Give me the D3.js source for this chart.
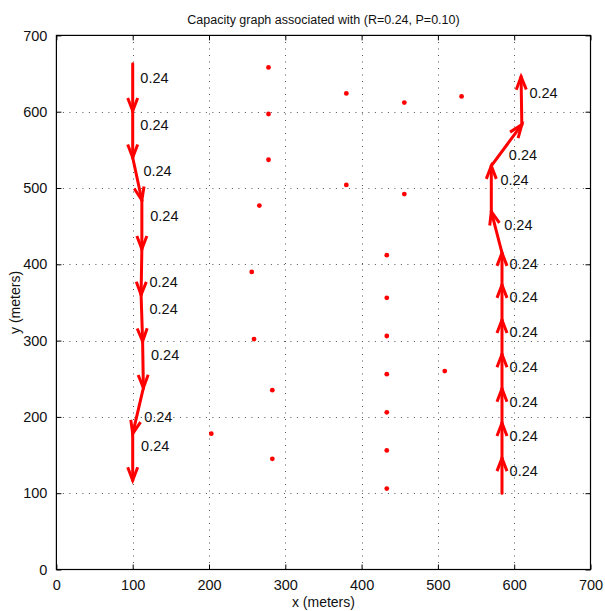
<!DOCTYPE html>
<html>
<head>
<meta charset="utf-8">
<script src="https://cdn.jsdelivr.net/npm/d3@7"></script>
<style>
  body { margin: 0; background: #fff; }
  text { font-family: "Liberation Sans", Arial, sans-serif; }
</style>
</head>
<body>
<div id="chart"></div>
<script>
// scattered sensor nodes (meters)
const nodesX = [278, 380, 456, 531, 278, 278, 380, 456, 266, 433, 256, 433, 259, 433, 509, 433, 283, 433, 203, 433, 283, 433];
const nodesY = [658, 624, 612, 620, 597, 537, 504, 492, 477, 412, 390, 356, 302, 306, 260, 256, 235, 206, 178, 156, 145, 106];

// left path, walked downward
const leftX = [100, 100, 100, 112, 112, 111, 113, 114, 100, 100];
const leftY = [663, 601, 540, 484, 420, 360, 299, 238, 178, 117];
const leftLabelX = [110, 110, 114, 123, 122, 122, 124, 115, 111];
const leftLabelY = [644, 583, 523, 464, 377, 342, 281, 200, 162];

// right path, walked upward
const rightX = [584, 584, 584, 584, 584, 584, 584, 584, 570, 570, 610, 609];
const rightY = [100, 146, 192, 237, 282, 327, 373, 415, 469, 529, 583, 646];
const rightLabelX = [594, 594, 594, 594, 594, 594, 594, 587, 582, 593, 620];
const rightLabelY = [129, 175, 220, 266, 312, 357, 401, 451, 511, 544, 624];

const capacity = "0.24";
const xTicks = [0, 100, 200, 300, 400, 500, 600, 700];
const yTicks = [0, 100, 200, 300, 400, 500, 600, 700];

const width = 605, height = 611;
const pl = 56.4, pr = 590.5, pt = 35.4, pb = 569.5;

const svg = d3.select("#chart").append("svg")
  .attr("width", width)
  .attr("height", height);

const x = d3.scaleLinear().domain([0, 700]).range([pl, pr]);
const y = d3.scaleLinear().domain([0, 700]).range([pb, pt]);

// grid
const grid = svg.append("g")
  .attr("stroke", "#555")
  .attr("stroke-width", 1)
  .attr("stroke-dasharray", "1,5.5");
grid.selectAll(".gx").data(xTicks.slice(1, -1)).enter().append("line")
  .attr("x1", d => Math.round(x(d)) + 0.5).attr("x2", d => Math.round(x(d)) + 0.5)
  .attr("y1", pb).attr("y2", pt);
grid.selectAll(".gy").data(yTicks.slice(1, -1)).enter().append("line")
  .attr("y1", d => Math.round(y(d)) + 0.5).attr("y2", d => Math.round(y(d)) + 0.5)
  .attr("x1", pl).attr("x2", pr);

// axes, ticks pointing inward like matlab
const fmt = d3.format("d");
svg.append("g").attr("transform", `translate(0,${pb})`)
  .call(d3.axisBottom(x).tickValues(xTicks).tickFormat(fmt).tickSizeInner(-5).tickSizeOuter(0).tickPadding(10));
svg.append("g").attr("transform", `translate(${pl},0)`)
  .call(d3.axisLeft(y).tickValues(yTicks).tickFormat(fmt).tickSizeInner(-5).tickSizeOuter(0).tickPadding(9));
svg.append("g").attr("transform", `translate(0,${pt})`)
  .call(d3.axisTop(x).tickValues(xTicks).tickFormat("").tickSizeInner(-5).tickSizeOuter(0));
svg.append("g").attr("transform", `translate(${pr},0)`)
  .call(d3.axisRight(y).tickValues(yTicks).tickFormat("").tickSizeInner(-5).tickSizeOuter(0));

svg.selectAll(".domain").remove();
svg.selectAll(".tick line").attr("stroke", "#000");
svg.selectAll(".tick text")
  .attr("font-size", 14.5)
  .attr("fill", "#111")
  .style("font-family", "'Liberation Sans', Arial, sans-serif");

svg.append("rect")
  .attr("x", pl).attr("y", pt)
  .attr("width", pr - pl).attr("height", pb - pt)
  .attr("fill", "none").attr("stroke", "#000").attr("stroke-width", 1.2);

// nodes
svg.append("g").selectAll("circle")
  .data(nodesX.map((d, i) => [d, nodesY[i]]))
  .enter().append("circle")
  .attr("cx", d => x(d[0]))
  .attr("cy", d => y(d[1]))
  .attr("r", 2.4)
  .attr("fill", "#ff0000");

// arrows
function drawPath(xs, ys, lx, ly) {
  const g = svg.append("g")
    .attr("stroke", "#ff0000")
    .attr("stroke-width", 3)
    .attr("fill", "none")
    .attr("stroke-linecap", "round")
    .attr("stroke-linejoin", "round");
  const line = d3.line();
  for (let i = 0; i < xs.length - 1; i++) {
    const x0 = x(xs[i]), y0 = y(ys[i]);
    const x1 = x(xs[i + 1]), y1 = y(ys[i + 1]);
    g.append("path").attr("d", line([[x0, y0], [x1, y1]]));
    const a = Math.atan2(y1 - y0, x1 - x0);
    const hl = 13, hw = 5;
    const bx = x1 - hl * Math.cos(a), by = y1 - hl * Math.sin(a);
    const px = -Math.sin(a) * hw, py = Math.cos(a) * hw;
    g.append("path")
      .attr("stroke-linecap", "butt")
      .attr("stroke-linejoin", "miter")
      .attr("d", line([[bx + px, by + py], [x1, y1], [bx - px, by - py]]));
  }
  svg.append("g").selectAll("text")
    .data(lx.map((d, i) => [d, ly[i]]))
    .enter().append("text")
    .attr("x", d => x(d[0]))
    .attr("y", d => y(d[1]))
    .attr("dy", "0.35em")
    .attr("font-size", 14.5)
    .attr("fill", "#111")
    .text(capacity);
}
drawPath(leftX, leftY, leftLabelX, leftLabelY);
drawPath(rightX, rightY, rightLabelX, rightLabelY);

// labels
svg.append("text")
  .attr("x", (pl + pr) / 2).attr("y", 24)
  .attr("text-anchor", "middle")
  .attr("font-size", 12.5)
  .attr("fill", "#111")
  .text("Capacity graph associated with (R=0.24, P=0.10)");
svg.append("text")
  .attr("x", (pl + pr) / 2).attr("y", 607)
  .attr("text-anchor", "middle")
  .attr("font-size", 14)
  .attr("fill", "#111")
  .text("x (meters)");
svg.append("text")
  .attr("transform", `translate(20,${(pt + pb) / 2}) rotate(-90)`)
  .attr("text-anchor", "middle")
  .attr("font-size", 14)
  .attr("fill", "#111")
  .text("y (meters)");
</script>
</body>
</html>
